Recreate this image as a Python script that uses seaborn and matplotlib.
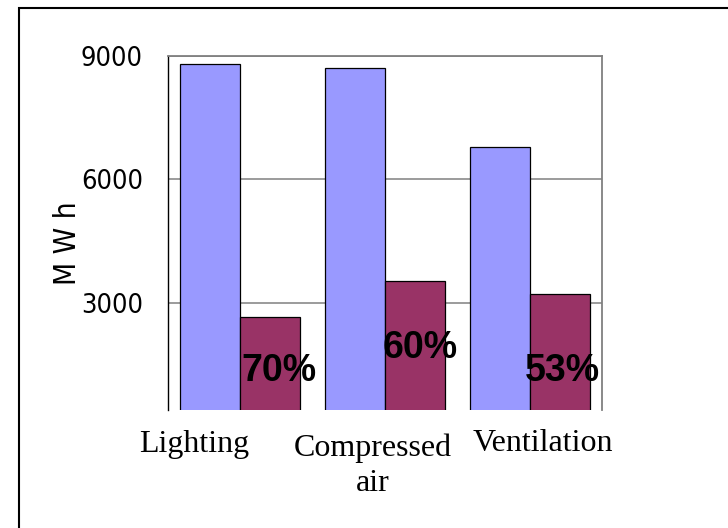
import matplotlib
matplotlib.use("Agg")
import matplotlib.pyplot as plt
from matplotlib import font_manager
from matplotlib.patches import Rectangle
from matplotlib.transforms import ScaledTranslation
import seaborn as sns
import pandas as pd

# Energy use per end-use, current consumption vs. after improvements (MWh)
categories = ["Lighting", "Compressed\nair", "Ventilation"]
series = ["Current", "Improved"]
current_mwh = [8800, 8700, 6800]
improved_mwh = [2650, 3530, 3230]
savings_labels = ["70%", "60%", "53%"]
y_ticks = [3000, 6000, 9000]

df = pd.DataFrame({
    "category": categories * 2,
    "series": [series[0]] * len(categories) + [series[1]] * len(categories),
    "mwh": current_mwh + improved_mwh,
})

sns.set_theme(style="white")
plt.rcParams["font.family"] = ["Liberation Sans", "DejaVu Sans"]

# pick a narrow sans face for the axis text if one is installed
narrow = [f for f in font_manager.fontManager.ttflist
          if ("Narrow" in f.name or "Condensed" in f.name
              or f.stretch in ("condensed", "semi-condensed"))
          and f.weight in ("normal", 400, "regular")
          and f.style == "normal"]
if narrow:
    axis_font = dict(family=[narrow[0].name, "Liberation Sans"], stretch=narrow[0].stretch)
    tick_size, ylab_size = 19.5, 21.5
else:
    axis_font = dict(family=["Liberation Sans"])
    tick_size, ylab_size = 19, 20

W, H = 728, 528
fig = plt.figure(figsize=(W / 100, H / 100), dpi=100, facecolor="white")
ax = fig.add_axes([168 / W, 1 - 410 / H, 434 / W, 354 / H])

sns.barplot(
    data=df, x="category", y="mwh", hue="series",
    palette=["#9999FF", "#993366"], saturation=1, width=0.83,
    edgecolor="black", linewidth=0.9, legend=False, ax=ax, zorder=2,
)

ax.set_ylim(400, 9000)
ax.set_yticks(y_ticks)
ax.set_yticklabels([str(t) for t in y_ticks], fontsize=tick_size, color="black", **axis_font)
ax.yaxis.grid(True, color="#808080", linewidth=1.1)
ax.set_axisbelow(True)

for side in ("top", "right"):
    ax.spines[side].set_color("#808080")
    ax.spines[side].set_linewidth(1.3)
ax.spines["left"].set_color("black")
ax.spines["left"].set_linewidth(1.0)
ax.spines["bottom"].set_visible(False)

ax.tick_params(axis="y", length=8, width=1, color="#404040", pad=10, direction="out")
ax.tick_params(axis="x", length=0, pad=15)

ax.set_xlabel("")
ax.set_xticks(range(len(categories)))
ax.set_xticklabels(categories, family=["Liberation Serif", "DejaVu Serif"],
                   fontsize=23, linespacing=1.25, color="black")
label_shift_px = [(-46, 1), (-12, -3), (13, 2)]
for lab, (dx, dy) in zip(ax.get_xticklabels(), label_shift_px):
    lab.set_transform(lab.get_transform() + ScaledTranslation(dx / 100, dy / 100, fig.dpi_scale_trans))

ax.set_ylabel("M W h", fontsize=ylab_size, color="black", **axis_font)
ax.yaxis.set_label_coords(-0.198, 0.472)

# percentage savings written inside the improved bars
label_y = [1350, 1900, 1350]
label_dx = [9, 5, 3]
for bar, text, yv, dx in zip(ax.containers[1], savings_labels, label_y, label_dx):
    xc = bar.get_x() + bar.get_width() / 2
    ax.annotate(text, (xc, yv), xytext=(dx, 0), textcoords="offset pixels",
                ha="center", va="center", fontsize=27, fontweight="bold",
                color="black", annotation_clip=False, zorder=5)

# outer frame of the figure
fig.add_artist(Rectangle((19 / W, -0.1), 1.2, 1 - 8 / H + 0.1, transform=fig.transFigure,
                         fill=False, edgecolor="black", linewidth=1.5))

fig.savefig("out.png", dpi=100, facecolor="white")
